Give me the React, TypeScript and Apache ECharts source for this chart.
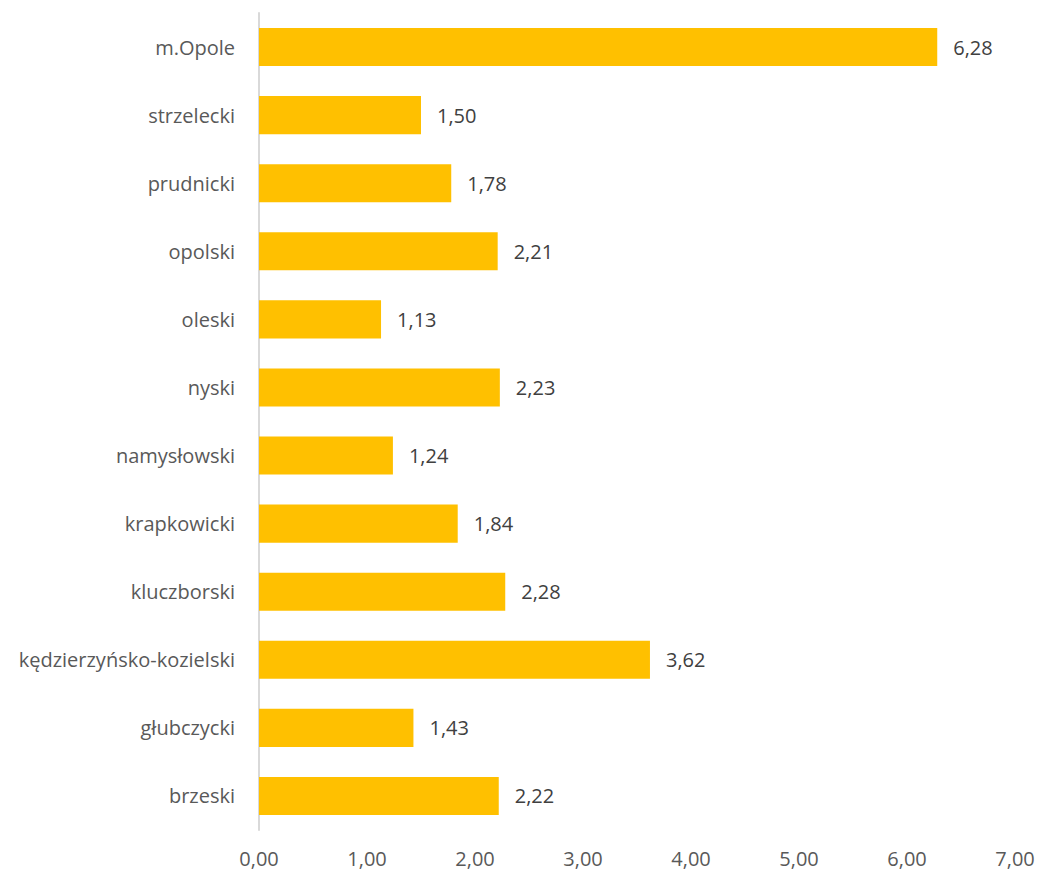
import React, { useEffect, useRef } from "react";
import * as echarts from "echarts";

const categories = [
  "brzeski",
  "głubczycki",
  "kędzierzyńsko-kozielski",
  "kluczborski",
  "krapkowicki",
  "namysłowski",
  "nyski",
  "oleski",
  "opolski",
  "prudnicki",
  "strzelecki",
  "m.Opole",
];

const values = [2.22, 1.43, 3.62, 2.28, 1.84, 1.24, 2.23, 1.13, 2.21, 1.78, 1.5, 6.28];

const xMin = 0;
const xMax = 7;
const xStep = 1;

const fmt = (v: number) => v.toFixed(2).replace(".", ",");

const FONT = "'Open Sans', 'Noto Sans', sans-serif";
const TEXT = "#595959";

export default function App() {
  const ref = useRef<HTMLDivElement>(null);

  useEffect(() => {
    document.body.style.margin = "0";
    if (!ref.current) return;
    const chart = echarts.init(ref.current, null, { renderer: "svg" });
    chart.setOption({
      animation: false,
      backgroundColor: "#ffffff",
      grid: { left: 259, right: 25, top: 13, bottom: 43, containLabel: false },
      xAxis: {
        type: "value",
        min: xMin,
        max: xMax,
        interval: xStep,
        axisLine: { show: false },
        axisTick: { show: false },
        splitLine: { show: false },
        axisLabel: {
          formatter: (v: number) => fmt(v),
          color: TEXT,
          fontFamily: FONT,
          fontSize: 20,
          margin: 18,
        },
      },
      yAxis: {
        type: "category",
        data: categories,
        axisLine: { show: true, lineStyle: { color: "#d9d9d9", width: 2 } },
        axisTick: { show: false },
        axisLabel: {
          color: TEXT,
          fontFamily: FONT,
          fontSize: 20,
          margin: 24,
        },
      },
      series: [
        {
          type: "bar",
          data: values,
          barCategoryGap: "44%",
          itemStyle: { color: "#FFC000" },
          label: {
            show: true,
            position: "right",
            distance: 16,
            formatter: (p: any) => fmt(p.value),
            color: "#404040",
            fontFamily: FONT,
            fontSize: 20,
          },
        },
      ],
    });
    return () => chart.dispose();
  }, []);

  return <div ref={ref} style={{ width: 1040, height: 873 }} />;
}
